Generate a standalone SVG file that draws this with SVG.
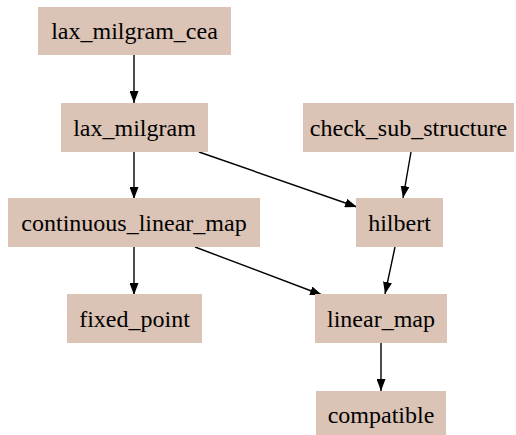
<svg xmlns="http://www.w3.org/2000/svg" width="516" height="435" viewBox="0 0 516 435">
<defs>
<style>
.n rect{fill:#dbc3b5;stroke:none}
.n text{fill:#000;text-anchor:middle}
.e path{fill:none;stroke:#000;stroke-width:1.4}
</style>
<marker id="ah" viewBox="0 0 12 9" refX="12" refY="4.5" markerWidth="12" markerHeight="9" markerUnits="userSpaceOnUse" orient="auto">
<path d="M0,0L12,4.5L0,9z" fill="#000"/>
</marker>
</defs>
<rect width="516" height="435" fill="#fff"/>
<g class="e">
<path d="M134,55L134,103" marker-end="url(#ah)"/>
<path d="M134,152L134,199" marker-end="url(#ah)"/>
<path d="M199,152L357,207" marker-end="url(#ah)"/>
<path d="M411,152L403,198" marker-end="url(#ah)"/>
<path d="M134,247L134,295" marker-end="url(#ah)"/>
<path d="M195,247L322,295" marker-end="url(#ah)"/>
<path d="M395,247L385,294" marker-end="url(#ah)"/>
<path d="M381,343L381,391" marker-end="url(#ah)"/>
</g>
<g id="lax_milgram_cea" class="n"><rect x="38" y="7" width="193" height="48"/><text x="134.5" y="39" style="font-family:'Liberation Serif',serif;font-size:24px">lax_milgram_cea</text></g>
<g id="lax_milgram" class="n"><rect x="61" y="103" width="147" height="49"/><text x="134.5" y="135.5" style="font-family:'Liberation Serif',serif;font-size:24px">lax_milgram</text></g>
<g id="continuous_linear_map" class="n"><rect x="8" y="198" width="252" height="49"/><text x="134" y="231" style="font-family:'Liberation Serif',serif;font-size:24px">continuous_linear_map</text></g>
<g id="fixed_point" class="n"><rect x="67" y="294" width="135" height="49"/><text x="134.5" y="327" style="font-family:'Liberation Serif',serif;font-size:24px">fixed_point</text></g>
<g id="check_sub_structure" class="n"><rect x="303" y="103" width="211" height="49"/><text x="408.5" y="135.5" style="font-family:'Liberation Serif',serif;font-size:24px">check_sub_structure</text></g>
<g id="hilbert" class="n"><rect x="356" y="198" width="87" height="49"/><text x="399.5" y="231" style="font-family:'Liberation Serif',serif;font-size:24px">hilbert</text></g>
<g id="linear_map" class="n"><rect x="315" y="294" width="132" height="49"/><text x="381" y="327" style="font-family:'Liberation Serif',serif;font-size:24px">linear_map</text></g>
<g id="compatible" class="n"><rect x="316" y="391" width="130" height="48"/><text x="381" y="423" style="font-family:'Liberation Serif',serif;font-size:24px">compatible</text></g>
</svg>
